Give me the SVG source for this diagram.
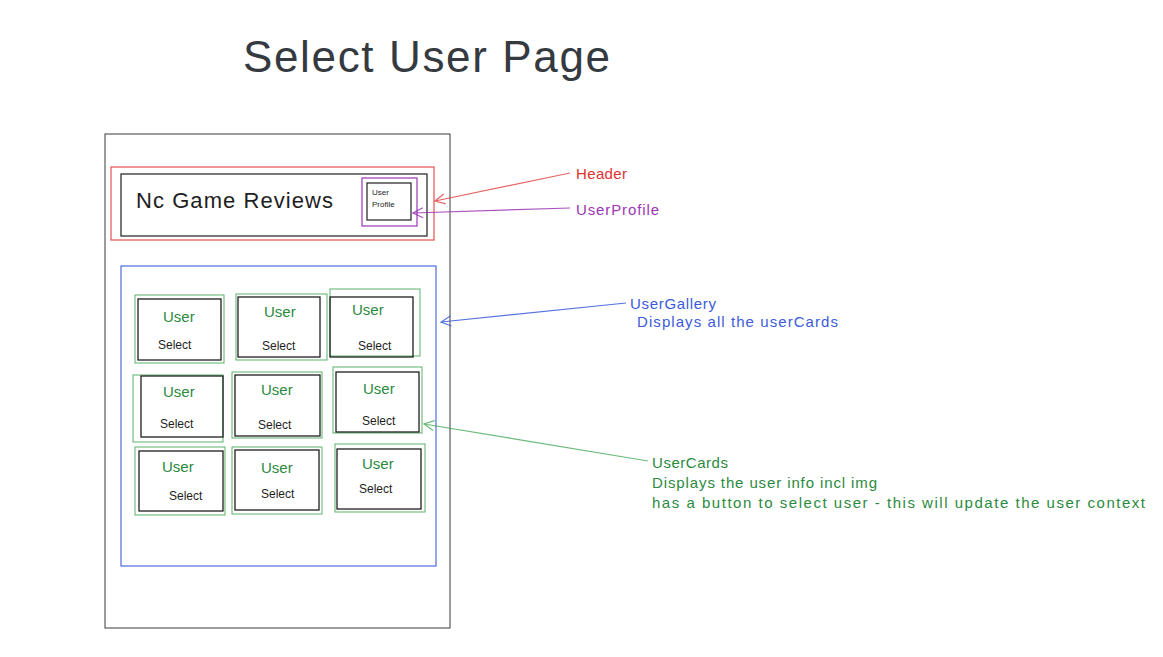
<svg xmlns="http://www.w3.org/2000/svg" width="1163" height="657" viewBox="0 0 1163 657">
<defs>
<style>
.t{font-family:"Liberation Sans","Open Sans",sans-serif}
.box{fill:none;stroke:#1e1e1e;stroke-width:1.2}
.page{fill:none;stroke:#3a3a3a;stroke-width:1}
.gout{fill:none;stroke:#2f9e44;stroke-width:1;opacity:0.8}
.gin{fill:none;stroke:#1e1e1e;stroke-width:1.3}
.user{font-size:15px;fill:#2b8a3e}
.sel{font-size:12px;fill:#1e1e1e}
.lab{font-size:15px}
</style>
<marker id="ar" viewBox="0 0 12 12" refX="11" refY="6" markerWidth="12" markerHeight="12" markerUnits="userSpaceOnUse" orient="auto">
<path d="M1,1 L11,6 L1,11" fill="none" stroke="context-stroke" stroke-width="1.2"/>
</marker>
</defs>
<rect width="1163" height="657" fill="#ffffff"/>
<g id="title"><text class="t" x="243" y="72" font-size="44" fill="#343a40" textLength="367">Select User Page</text></g>
<g id="page"><rect class="page" x="105" y="134" width="345" height="494"/></g>
<g id="header">
<rect x="111" y="167" width="323" height="73" fill="none" stroke="#e03131" stroke-width="1.2" opacity="0.85"/>
<rect class="box" x="121" y="174" width="306" height="62"/>
<text class="t" x="136" y="208" font-size="22" fill="#1e1e1e" textLength="197">Nc Game Reviews</text>
</g>
<g id="userprofile">
<rect x="362" y="178" width="55" height="48" fill="none" stroke="#9c36b5" stroke-width="1.2"/>
<rect class="box" x="367" y="183" width="44" height="37"/>
<text class="t" x="372" y="195" font-size="8" fill="#1e1e1e">User</text>
<text class="t" x="372" y="207" font-size="8" fill="#1e1e1e">Profile</text>
</g>
<g id="usergallery"><rect x="121" y="266" width="315" height="300" fill="none" stroke="#3b5bdb" stroke-width="1.2" opacity="0.9"/></g>
<g id="card1"><rect class="gout" x="135" y="295" width="89" height="68"/><rect class="gin" x="138" y="299" width="83" height="61"/><text class="t user" x="163" y="322">User</text><text class="t sel" x="158" y="349">Select</text></g>
<g id="card2"><rect class="gout" x="236" y="294" width="91" height="66"/><rect class="gin" x="238" y="297" width="82" height="60"/><text class="t user" x="264" y="317">User</text><text class="t sel" x="262" y="350">Select</text></g>
<g id="card3"><rect class="gout" x="330" y="289" width="90" height="67"/><rect class="gin" x="330" y="297" width="83" height="60"/><text class="t user" x="352" y="315">User</text><text class="t sel" x="358" y="350">Select</text></g>
<g id="card4"><rect class="gout" x="133" y="375" width="90" height="67"/><rect class="gin" x="141" y="376" width="82" height="61"/><text class="t user" x="163" y="397">User</text><text class="t sel" x="160" y="428">Select</text></g>
<g id="card5"><rect class="gout" x="232" y="372" width="90" height="66"/><rect class="gin" x="235" y="375" width="85" height="61"/><text class="t user" x="261" y="395">User</text><text class="t sel" x="258" y="429">Select</text></g>
<g id="card6"><rect class="gout" x="333" y="367" width="89" height="66"/><rect class="gin" x="336" y="372" width="83" height="60"/><text class="t user" x="363" y="394">User</text><text class="t sel" x="362" y="425">Select</text></g>
<g id="card7"><rect class="gout" x="135" y="447" width="90" height="68"/><rect class="gin" x="139" y="451" width="84" height="60"/><text class="t user" x="162" y="472">User</text><text class="t sel" x="169" y="500">Select</text></g>
<g id="card8"><rect class="gout" x="232" y="447" width="90" height="67"/><rect class="gin" x="235" y="450" width="84" height="60"/><text class="t user" x="261" y="473">User</text><text class="t sel" x="261" y="498">Select</text></g>
<g id="card9"><rect class="gout" x="335" y="444" width="90" height="68"/><rect class="gin" x="337" y="449" width="84" height="60"/><text class="t user" x="362" y="469">User</text><text class="t sel" x="359" y="493">Select</text></g>
<g id="connectors" fill="none" stroke-width="1.2">
<path d="M570,173 L435,201" stroke="#e03131" opacity="0.75" marker-end="url(#ar)"/>
<path d="M570,208 L413,213" stroke="#9c36b5" opacity="0.85" marker-end="url(#ar)"/>
<path d="M626,303 L441,322" stroke="#3b5bdb" opacity="0.85" marker-end="url(#ar)"/>
<path d="M648,461 L424,424" stroke="#2f9e44" opacity="0.7" marker-end="url(#ar)"/>
</g>
<g id="labels" class="t lab">
<text x="576" y="179" fill="#e03131" textLength="51">Header</text>
<text x="576" y="215" fill="#9c36b5" textLength="83">UserProfile</text>
<text x="630" y="309" fill="#3b5bdb" textLength="86">UserGallery</text>
<text x="637" y="327" fill="#3b5bdb" textLength="201">Displays all the userCards</text>
<text x="652" y="468" fill="#2b8a3e" textLength="76">UserCards</text>
<text x="652" y="488" fill="#2b8a3e" textLength="225">Displays the user info incl img</text>
<text x="652" y="508" fill="#2b8a3e" textLength="493">has a button to select user - this will update the user context</text>
</g>
</svg>
